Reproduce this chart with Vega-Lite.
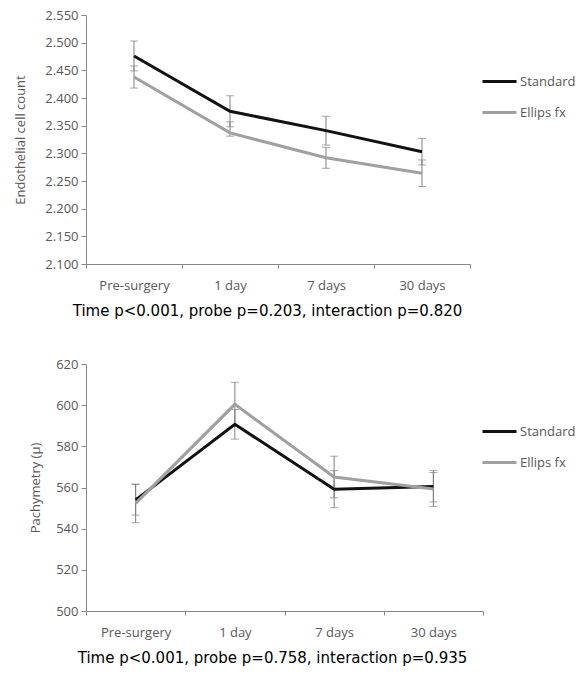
{
  "$schema": "https://vega.github.io/schema/vega-lite/v6.json",
  "background": "white",
  "padding": {"left": 14, "top": 9, "right": 5, "bottom": 5},
  "spacing": 40,
  "config": {
    "font": "Open Sans",
    "view": {"stroke": null},
    "axis": {"domainColor": "#868686", "tickColor": "#868686", "labelColor": "#595959", "labelFontSize": 13, "titleFontWeight": "normal", "grid": false, "labelFont": "Open Sans", "titleFont": "Open Sans", "labelOverlap": false},
    "axisX": {"titleColor": "#000000", "titleFont": "DejaVu Sans", "titleFontSize": 15, "labelAngle": 0, "tickSize": 4, "labelPadding": 11, "titlePadding": 11},
    "axisY": {"titleColor": "#595959", "titleFontSize": 13, "tickSize": 5, "labelPadding": 3},
    "legend": {"labelFont": "Open Sans", "labelFontSize": 13, "labelColor": "#595959"}
  },
  "resolve": {"scale": {"color": "independent"}, "legend": {"color": "independent"}},
  "vconcat": [
    {
      "width": 384,
      "height": 249,
      "data": {"values": [
        {"time": "Pre-surgery", "series": "Standard", "value": 2.476, "lo": 2.449, "hi": 2.503},
        {"time": "1 day", "series": "Standard", "value": 2.376, "lo": 2.348, "hi": 2.404},
        {"time": "7 days", "series": "Standard", "value": 2.341, "lo": 2.315, "hi": 2.367},
        {"time": "30 days", "series": "Standard", "value": 2.303, "lo": 2.279, "hi": 2.327},
        {"time": "Pre-surgery", "series": "Ellips fx", "value": 2.438, "lo": 2.418, "hi": 2.458},
        {"time": "1 day", "series": "Ellips fx", "value": 2.337, "lo": 2.331, "hi": 2.357},
        {"time": "7 days", "series": "Ellips fx", "value": 2.292, "lo": 2.273, "hi": 2.311},
        {"time": "30 days", "series": "Ellips fx", "value": 2.264, "lo": 2.240, "hi": 2.288}
      ]},
      "encoding": {
        "x": {"field": "time", "type": "ordinal", "sort": ["Pre-surgery", "1 day", "7 days", "30 days"], "bandPosition": 0.5,
              "scale": {"type": "band", "paddingInner": 0, "paddingOuter": 0},
              "axis": {"title": "Time p<0.001, probe p=0.203, interaction p=0.820", "tickBand": "extent", "titleX": 181, "titleAlign": "center"}}
      },
      "layer": [
        {
          "mark": {"type": "rule", "color": "#808080", "strokeWidth": 1},
          "encoding": {
            "y": {"field": "lo", "type": "quantitative", "title": "Endothelial cell count", "scale": {"domain": [2.1, 2.55], "nice": false, "zero": false},
                  "axis": {"values": [2.1, 2.15, 2.2, 2.25, 2.3, 2.35, 2.4, 2.45, 2.5, 2.55], "format": ".3f", "titlePadding": 17}},
            "y2": {"field": "hi"},
            "detail": {"field": "series"}
          }
        },
        {
          "mark": {"type": "tick", "color": "#808080", "size": 8, "thickness": 1},
          "encoding": {"y": {"field": "lo", "type": "quantitative", "title": "Endothelial cell count", "scale": {"domain": [2.1, 2.55], "nice": false, "zero": false},
                  "axis": {"values": [2.1, 2.15, 2.2, 2.25, 2.3, 2.35, 2.4, 2.45, 2.5, 2.55], "format": ".3f", "titlePadding": 17}}}
        },
        {
          "mark": {"type": "tick", "color": "#808080", "size": 8, "thickness": 1},
          "encoding": {"y": {"field": "hi", "type": "quantitative", "title": "Endothelial cell count", "scale": {"domain": [2.1, 2.55], "nice": false, "zero": false},
                  "axis": {"values": [2.1, 2.15, 2.2, 2.25, 2.3, 2.35, 2.4, 2.45, 2.5, 2.55], "format": ".3f", "titlePadding": 17}}}
        },
        {
          "mark": {"type": "line", "strokeWidth": 3},
          "encoding": {
            "y": {"field": "value", "type": "quantitative", "title": "Endothelial cell count", "scale": {"domain": [2.1, 2.55], "nice": false, "zero": false},
                  "axis": {"values": [2.1, 2.15, 2.2, 2.25, 2.3, 2.35, 2.4, 2.45, 2.5, 2.55], "format": ".3f", "titlePadding": 17}},
            "color": {"field": "series", "type": "nominal", "sort": ["Standard", "Ellips fx"],
                      "scale": {"domain": ["Standard", "Ellips fx"], "range": ["#111111", "#a0a0a0"]},
                      "legend": {"orient": "none", "legendX": 395, "legendY": 48, "title": null, "symbolType": "stroke", "symbolSize": 1156, "symbolStrokeWidth": 3, "labelOffset": 2, "rowPadding": 5, "padding": 0}}
          }
        }
      ]
    },
    {
      "width": 397,
      "height": 247,
      "data": {"values": [
        {"time": "Pre-surgery", "series": "Standard", "value": 554.0, "lo": 546.6, "hi": 561.4},
        {"time": "1 day", "series": "Standard", "value": 590.7, "lo": 583.5, "hi": 597.9},
        {"time": "7 days", "series": "Standard", "value": 559.2, "lo": 550.2, "hi": 568.2},
        {"time": "30 days", "series": "Standard", "value": 560.5, "lo": 553.0, "hi": 568.2},
        {"time": "Pre-surgery", "series": "Ellips fx", "value": 552.3, "lo": 542.9, "hi": 561.7},
        {"time": "1 day", "series": "Ellips fx", "value": 600.4, "lo": 589.7, "hi": 611.1},
        {"time": "7 days", "series": "Ellips fx", "value": 565.1, "lo": 555.0, "hi": 575.2},
        {"time": "30 days", "series": "Ellips fx", "value": 559.3, "lo": 550.8, "hi": 567.3}
      ]},
      "encoding": {
        "x": {"field": "time", "type": "ordinal", "sort": ["Pre-surgery", "1 day", "7 days", "30 days"], "bandPosition": 0.5,
              "scale": {"type": "band", "paddingInner": 0, "paddingOuter": 0},
              "axis": {"title": "Time p<0.001, probe p=0.758, interaction p=0.935", "tickBand": "extent", "titleX": 186, "titleAlign": "center"}}
      },
      "layer": [
        {
          "mark": {"type": "rule", "color": "#808080", "strokeWidth": 1},
          "encoding": {
            "y": {"field": "lo", "type": "quantitative", "title": "Pachymetry (µ)", "scale": {"domain": [500, 620], "nice": false, "zero": false},
                  "axis": {"values": [500, 520, 540, 560, 580, 600, 620], "titlePadding": 13}},
            "y2": {"field": "hi"},
            "detail": {"field": "series"}
          }
        },
        {
          "mark": {"type": "tick", "color": "#808080", "size": 8, "thickness": 1},
          "encoding": {"y": {"field": "lo", "type": "quantitative", "title": "Pachymetry (µ)", "scale": {"domain": [500, 620], "nice": false, "zero": false},
                  "axis": {"values": [500, 520, 540, 560, 580, 600, 620], "titlePadding": 13}}}
        },
        {
          "mark": {"type": "tick", "color": "#808080", "size": 8, "thickness": 1},
          "encoding": {"y": {"field": "hi", "type": "quantitative", "title": "Pachymetry (µ)", "scale": {"domain": [500, 620], "nice": false, "zero": false},
                  "axis": {"values": [500, 520, 540, 560, 580, 600, 620], "titlePadding": 13}}}
        },
        {
          "mark": {"type": "line", "strokeWidth": 3},
          "encoding": {
            "y": {"field": "value", "type": "quantitative", "title": "Pachymetry (µ)", "scale": {"domain": [500, 620], "nice": false, "zero": false},
                  "axis": {"values": [500, 520, 540, 560, 580, 600, 620], "titlePadding": 13}},
            "color": {"field": "series", "type": "nominal", "sort": ["Standard", "Ellips fx"],
                      "scale": {"domain": ["Standard", "Ellips fx"], "range": ["#111111", "#a0a0a0"]},
                      "legend": {"orient": "none", "legendX": 395, "legendY": 49, "title": null, "symbolType": "stroke", "symbolSize": 1156, "symbolStrokeWidth": 3, "labelOffset": 2, "rowPadding": 5, "padding": 0}}
          }
        }
      ]
    }
  ]
}
